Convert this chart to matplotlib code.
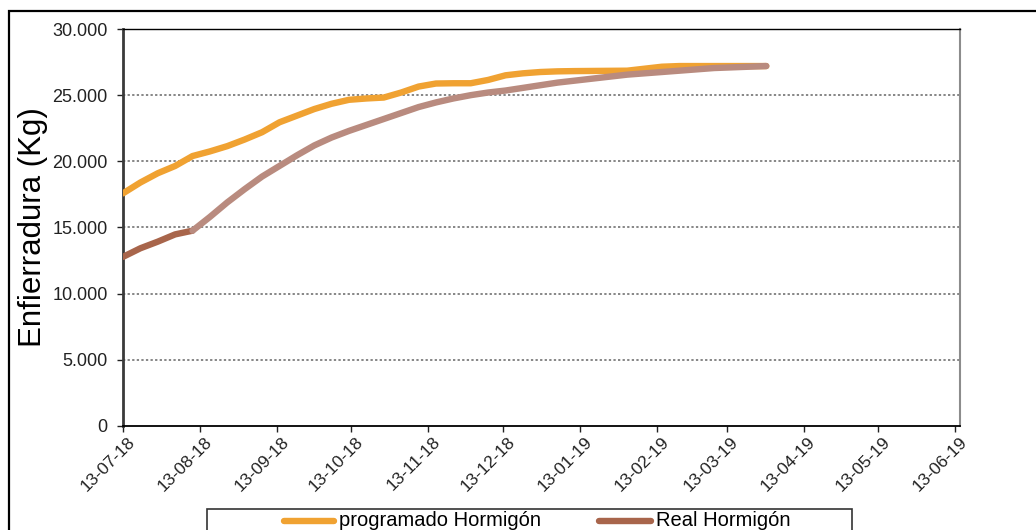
import datetime as dt
import matplotlib
matplotlib.use("Agg")
import matplotlib.pyplot as plt
import matplotlib.dates as mdates
from matplotlib.patches import Rectangle
from matplotlib.lines import Line2D
from matplotlib.transforms import ScaledTranslation

plt.rcParams['font.family'] = ['Liberation Sans', 'DejaVu Sans']

# weekly readings starting 13-07-18
start = dt.date(2018, 7, 13)
weeks = list(range(38))
dates = [start + dt.timedelta(days=7 * k) for k in weeks]

programado = [17580, 18400, 19100, 19650, 20400, 20750, 21150, 21650, 22200, 22950,
              23450, 23950, 24350, 24650, 24750, 24820, 25200, 25650, 25880, 25900,
              25900, 26150, 26500, 26650, 26750, 26800, 26820, 26830, 26840, 26850,
              27000, 27150, 27200, 27200, 27200, 27200, 27200, 27200]
real = [12780, 13430, 13930, 14480, 14760, 15800, 16900, 17900, 18850, 19650,
        20450, 21200, 21800, 22300, 22750, 23200, 23650, 24100, 24450, 24750,
        25000, 25200, 25350, 25550, 25750, 25950, 26100, 26250, 26400, 26550,
        26650, 26750, 26850, 26950, 27050, 27100, 27150, 27200]

month_ticks = [dt.date(2018 + (6 + m) // 12, (6 + m) % 12 + 1, 13) for m in range(12)]

c_prog = '#F0A232'
c_real = '#A8654B'
c_real_light = '#B98B7F'

W, H = 1036, 530
fig = plt.figure(figsize=(W / 100, H / 100), dpi=100)


def fx(px):
    return px / W


def fy(py):
    return 1 - py / H


# outer frame
fig.patches.append(Rectangle((fx(9), fy(560)), fx(1100), fy(11) - fy(560),
                             transform=fig.transFigure, fill=False,
                             edgecolor='black', linewidth=1.6, clip_on=False))

ax = fig.add_axes([fx(123), fy(426), fx(960) - fx(123), fy(29) - fy(426)])

lw = 4.6
ax.plot(dates, programado, color=c_prog, lw=lw, solid_capstyle='round', zorder=3)
ax.plot(dates[:5], real[:5], color=c_real, lw=lw, solid_capstyle='round', zorder=4)
ax.plot(dates[4:], real[4:], color=c_real_light, lw=lw, solid_capstyle='round', zorder=4)

ax.set_ylim(0, 30000)
ax.set_xlim(dt.date(2018, 7, 13), dt.date(2019, 6, 15))
ax.set_yticks(range(0, 30001, 5000))
ax.set_yticklabels(['0'] + [f'{v // 1000}.000' for v in range(5000, 30001, 5000)])
for v in range(5000, 30000, 5000):
    ax.axhline(v, color='#666666', lw=1.1, ls=(0, (1.5, 1.5)), zorder=1)

ax.set_xticks(month_ticks)
ax.xaxis.set_major_formatter(mdates.DateFormatter('%d-%m-%y'))
ax.tick_params(axis='y', direction='out', length=4, width=1, pad=7,
               labelsize=13, colors='#222222')
ax.tick_params(axis='x', direction='out', length=4, width=1, pad=2,
               labelsize=12.5, colors='#222222')
offset = ScaledTranslation(4 / 100, 0, fig.dpi_scale_trans)
for lab in ax.get_xticklabels():
    lab.set_rotation(45)
    lab.set_ha('right')
    lab.set_va('top')
    lab.set_rotation_mode('anchor')
    lab.set_transform(lab.get_transform() + offset)

ax.spines['left'].set_color('#3a3a3a')
ax.spines['left'].set_linewidth(2.0)
ax.spines['bottom'].set_color('black')
ax.spines['bottom'].set_linewidth(1.3)
ax.spines['top'].set_color('black')
ax.spines['top'].set_linewidth(1.0)
ax.spines['right'].set_color('#8c8c8c')
ax.spines['right'].set_linewidth(1.5)

fig.text(fx(33), fy(227), 'Enfierradura (Kg)', rotation=90, ha='center', va='center',
         fontsize=22.5, color='black')

# legend box along the bottom edge
fig.patches.append(Rectangle((fx(207), fy(560)), fx(852) - fx(207), fy(509) - fy(560),
                             transform=fig.transFigure, fill=True, facecolor='white',
                             edgecolor='#333333', linewidth=1.2, clip_on=False))
ly = fy(521)
fig.lines.append(Line2D([fx(284), fx(334)], [ly, ly], transform=fig.transFigure,
                        color=c_prog, lw=lw, solid_capstyle='round'))
fig.text(fx(339), ly, 'programado Hormigón', ha='left', va='center', fontsize=14.5)
fig.lines.append(Line2D([fx(599), fx(651)], [ly, ly], transform=fig.transFigure,
                        color=c_real, lw=lw, solid_capstyle='round'))
fig.text(fx(656), ly, 'Real Hormigón', ha='left', va='center', fontsize=14.5)

fig.savefig('out.png', dpi=100)
